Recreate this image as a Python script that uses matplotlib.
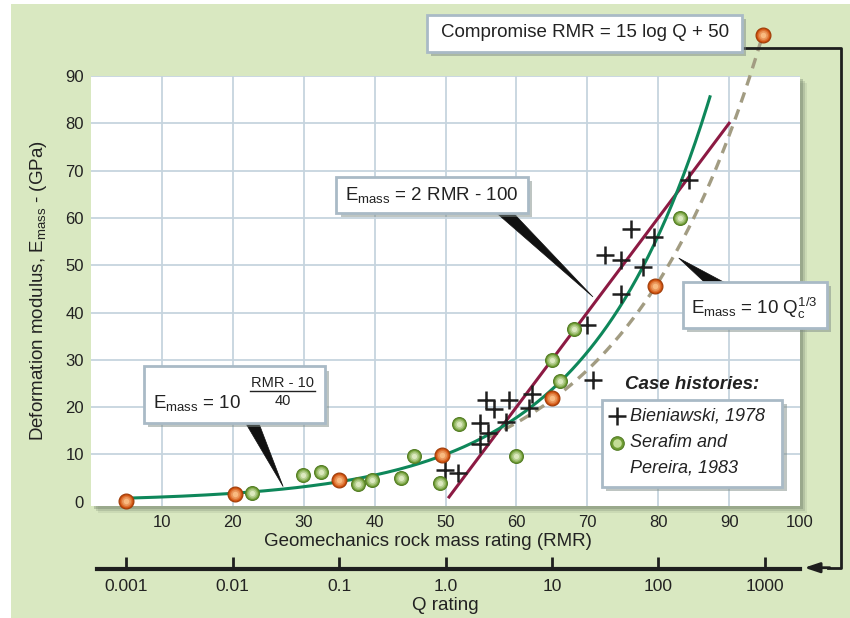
import numpy as np
import matplotlib
matplotlib.use("Agg")
import matplotlib.pyplot as plt
from matplotlib.patches import Rectangle, Polygon
from matplotlib.colors import to_rgb

plt.rcParams['font.family'] = ['Liberation Sans', 'DejaVu Sans']
plt.rcParams['mathtext.fontset'] = 'custom'
plt.rcParams['mathtext.rm'] = 'Liberation Sans'
plt.rcParams['mathtext.it'] = 'Liberation Sans:italic'
plt.rcParams['mathtext.bf'] = 'Liberation Sans:bold'

# --- values ---
# Bieniawski 1978 case histories (+)
bien_rmr = [84.4, 76.2, 79.4, 72.5, 74.7, 77.9, 74.7, 69.9, 70.8, 55.7,
            56.9, 59.0, 62.2, 61.8, 54.8, 58.6, 56.0, 54.9, 49.9, 51.7]
bien_e = [68.1, 57.7, 56.0, 52.1, 51.0, 49.7, 43.9, 37.4, 25.8, 21.4,
          19.7, 21.6, 22.8, 19.8, 16.6, 16.8, 14.5, 12.2, 6.6, 6.1]

# Serafim and Pereira 1983 (green dots)
ser_rmr = [22.7, 29.9, 32.4, 37.7, 39.7, 43.7, 45.6, 49.2, 51.9, 60.0, 65.0, 66.1, 68.1, 83.1]
ser_e = [1.8, 5.7, 6.2, 3.7, 4.6, 5.0, 9.7, 4.0, 16.5, 9.6, 29.9, 25.6, 36.5, 59.9]

# orange dots: one per decade of Q on the compromise curve
q_rmr = [5, 20.3, 35, 49.5, 65, 79.5, 94.8]
q_e = [0.1, 1.6, 4.6, 9.8, 22.0, 45.5, 98.7]

q_values = [0.001, 0.01, 0.1, 1.0, 10, 100, 1000]
q_labels = ['0.001', '0.01', '0.1', '1.0', '10', '100', '1000']
rmr_ticks = [10, 20, 30, 40, 50, 60, 70, 80, 90, 100]
e_ticks = [0, 10, 20, 30, 40, 50, 60, 70, 80, 90]

# curves from the formulas printed on the chart
rmr_exp = np.linspace(5, 87.3, 200)
e_exp = 10 ** ((rmr_exp - 10) / 40)
rmr_lin = np.array([50.5, 90])
e_lin = 2 * rmr_lin - 100
rmr_qc = np.linspace(56, 94.8, 200)
e_qc = 10 * (10 ** ((rmr_qc - 50) / 15)) ** (1 / 3)

W, H = 850, 618
fig = plt.figure(figsize=(8.5, 6.18), dpi=100, facecolor='white')


def fx(px):
    return px / W


def fy(py):
    return 1 - py / H


# light green background and shadow of the white panel
fig.patches.append(Rectangle((fx(11), 0), fx(850) - fx(11), fy(4), transform=fig.transFigure,
                             fc='#d9e8c1', ec='none', zorder=-3))
for off, a in [(7, 0.12), (5, 0.2), (3, 0.3)]:
    fig.patches.append(Rectangle((fx(91 + off), fy(505.5 + off)), fx(709), fy(76) - fy(505.5),
                                 transform=fig.transFigure, fc='#5f6e5c', ec='none',
                                 alpha=a, zorder=-2))

ax = fig.add_axes([fx(91), fy(505.5), fx(709), fy(76) - fy(505.5)])
ax.set_facecolor('white')
ax.set_xlim(0, 100)
ax.set_ylim(-0.8, 90)
for s in ax.spines.values():
    s.set_visible(False)
ax.set_xticks(rmr_ticks)
ax.set_yticks(e_ticks)
ax.tick_params(length=0, labelsize=12, colors='#222222')
ax.tick_params(axis='x', pad=7)
ax.tick_params(axis='y', pad=5)
for v in rmr_ticks[:-1]:
    ax.axvline(v, color='#c6d4de', lw=1.3, zorder=1)
for v in e_ticks[1:]:
    ax.axhline(v, color='#c6d4de', lw=1.3, zorder=1)

ax.set_xlabel('Geomechanics rock mass rating (RMR)', fontsize=13.5, color='#222222')
ax.xaxis.set_label_coords(0.475, -0.064)
ax.set_ylabel(r'Deformation modulus, E$_{\mathrm{mass}}$ - (GPa)', fontsize=13.5, color='#222222')
ax.yaxis.set_label_coords(-0.059, 0.5)

# curves
ax.plot(rmr_qc, e_qc, color='#a29c82', lw=2.4, ls=(0, (3.2, 2.2)), zorder=2, clip_on=False)
ax.plot(rmr_lin, e_lin, color='#8c1a43', lw=2.2, zorder=2.2)
ax.plot(rmr_exp, e_exp, color='#0e875a', lw=2.2, zorder=2.4)

# case histories
ax.scatter(bien_rmr, bien_e, marker='+', s=150, color='#1e1e1e', lw=1.8, zorder=4)


def spheres(x, y, dark, light, edge, size):
    ax.scatter(x, y, s=size, color=dark, edgecolors=edge, lw=0.8, zorder=4.2, clip_on=False)
    for k, f in enumerate([0.62, 0.36, 0.14]):
        t = (k + 1) / 3.4
        c = tuple((1 - t) * np.array(to_rgb(dark)) + t * np.array(to_rgb(light)))
        ax.scatter(x, y, s=size * f, color=c, lw=0, zorder=4.3 + 0.01 * k, clip_on=False)


spheres(ser_rmr, ser_e, '#6f9d33', '#eaf3d2', '#547d26', 100)
spheres(q_rmr, q_e, '#cf4f0c', '#ffc890', '#9e3c08', 115)


def box(x0, y0, x1, y1):
    ax.add_patch(Rectangle((x0 + 0.6, y0 - 0.9), x1 - x0, y1 - y0, fc='#7f8c86', ec='none',
                           alpha=0.5, zorder=5, clip_on=False))
    ax.add_patch(Rectangle((x0, y0), x1 - x0, y1 - y0, fc='white', ec='#a9bac6', lw=2,
                           zorder=5.1, clip_on=False))


def wedge(pts):
    ax.add_patch(Polygon(pts, closed=True, fc='#111111', ec='#111111', lw=0.5, zorder=3.5,
                         clip_on=False))


# compromise label and connector to the Q axis
box(47.4, 95.1, 91.8, 103.0)
ax.text(69.7, 99.1, 'Compromise RMR = 15 log Q + 50', fontsize=13.5, ha='center', va='center',
        color='#222222', zorder=6, clip_on=False)
ax.plot([91.8, 105.8, 105.8, 104.0], [96.0, 96.0, -13.95, -13.95], color='#1e1e1e', lw=2,
        zorder=3, clip_on=False)
ax.annotate('', xy=(100.6, -13.95), xytext=(104.2, -13.95), zorder=3,
            arrowprops=dict(arrowstyle='-|>,head_length=0.9,head_width=0.3', color='#1e1e1e',
                            lw=2, shrinkA=0, shrinkB=0), annotation_clip=False)

# E = 2 RMR - 100
wedge([(57.0, 61.3), (59.4, 61.3), (70.8, 43.3)])
box(34.6, 61.1, 61.6, 68.7)
ax.text(48.1, 64.9, r'E$_{\mathrm{mass}}$ = 2 RMR - 100', fontsize=13.5, ha='center', va='center',
        color='#222222', zorder=6)

# E = 10^((RMR-10)/40)
wedge([(21.7, 16.9), (23.6, 16.9), (27.1, 3.2)])
box(7.5, 16.7, 33.0, 28.6)
ax.text(8.8, 20.9, r'E$_{\mathrm{mass}}$ = 10', fontsize=13.5, ha='left', va='center',
        color='#222222', zorder=6)
ax.text(27.0, 25.1, 'RMR - 10', fontsize=10.5, ha='center', va='center', color='#222222', zorder=6)
ax.plot([22.4, 31.6], [23.4, 23.4], color='#222222', lw=1, zorder=6)
ax.text(27.0, 21.3, '40', fontsize=10.5, ha='center', va='center', color='#222222', zorder=6)

# E = 10 Qc^(1/3)
wedge([(86.6, 46.3), (89.4, 46.3), (82.9, 51.5)])
box(83.5, 36.8, 103.8, 46.5)
ax.text(93.6, 40.8, r'E$_{\mathrm{mass}}$ = 10 Q$_{\mathrm{c}}^{\mathit{1/3}}$', fontsize=13.5,
        ha='center', va='center', color='#222222', zorder=6, clip_on=False)

# legend
ax.text(84.8, 24.7, 'Case histories:', fontsize=13.5, fontweight='bold', fontstyle='italic',
        ha='center', va='center', color='#222222', zorder=6)
box(72.1, 3.2, 97.5, 21.6)
ax.scatter([74.2], [18.2], marker='+', s=150, color='#1e1e1e', lw=1.8, zorder=6)
ax.scatter([74.2], [12.5], s=95, color='#6f9d33', edgecolors='#547d26', lw=0.8, zorder=6)
ax.scatter([74.2], [12.5], s=38, color='#c3dc96', lw=0, zorder=6.1)
for yy, t in [(18.2, 'Bieniawski, 1978'), (12.5, 'Serafim and'), (7.1, 'Pereira, 1983')]:
    ax.text(76.0, yy, t, fontsize=13, fontstyle='italic', ha='left', va='center',
            color='#222222', zorder=6)

# Q rating axis
qax = fig.add_axes([fx(91), fy(569), fx(709), 0.02])
qax.patch.set_visible(False)
qax.set_xlim(0, 100)
qax.set_yticks([])
for side in ['left', 'right', 'top']:
    qax.spines[side].set_visible(False)
qax.spines['bottom'].set_linewidth(3)
qax.spines['bottom'].set_color('#1e1e1e')
qax.spines['bottom'].set_bounds(0.8, 100)
qax.set_xticks([15 * np.log10(q) + 50 for q in q_values])
qax.set_xticklabels(q_labels)
qax.tick_params(axis='x', direction='in', length=9, width=2, color='#1e1e1e', pad=7,
                labelsize=12.5, labelcolor='#222222')
qax.set_xlabel('Q rating', fontsize=13.5, color='#222222', labelpad=2)

fig.savefig('out.png', dpi=100)
